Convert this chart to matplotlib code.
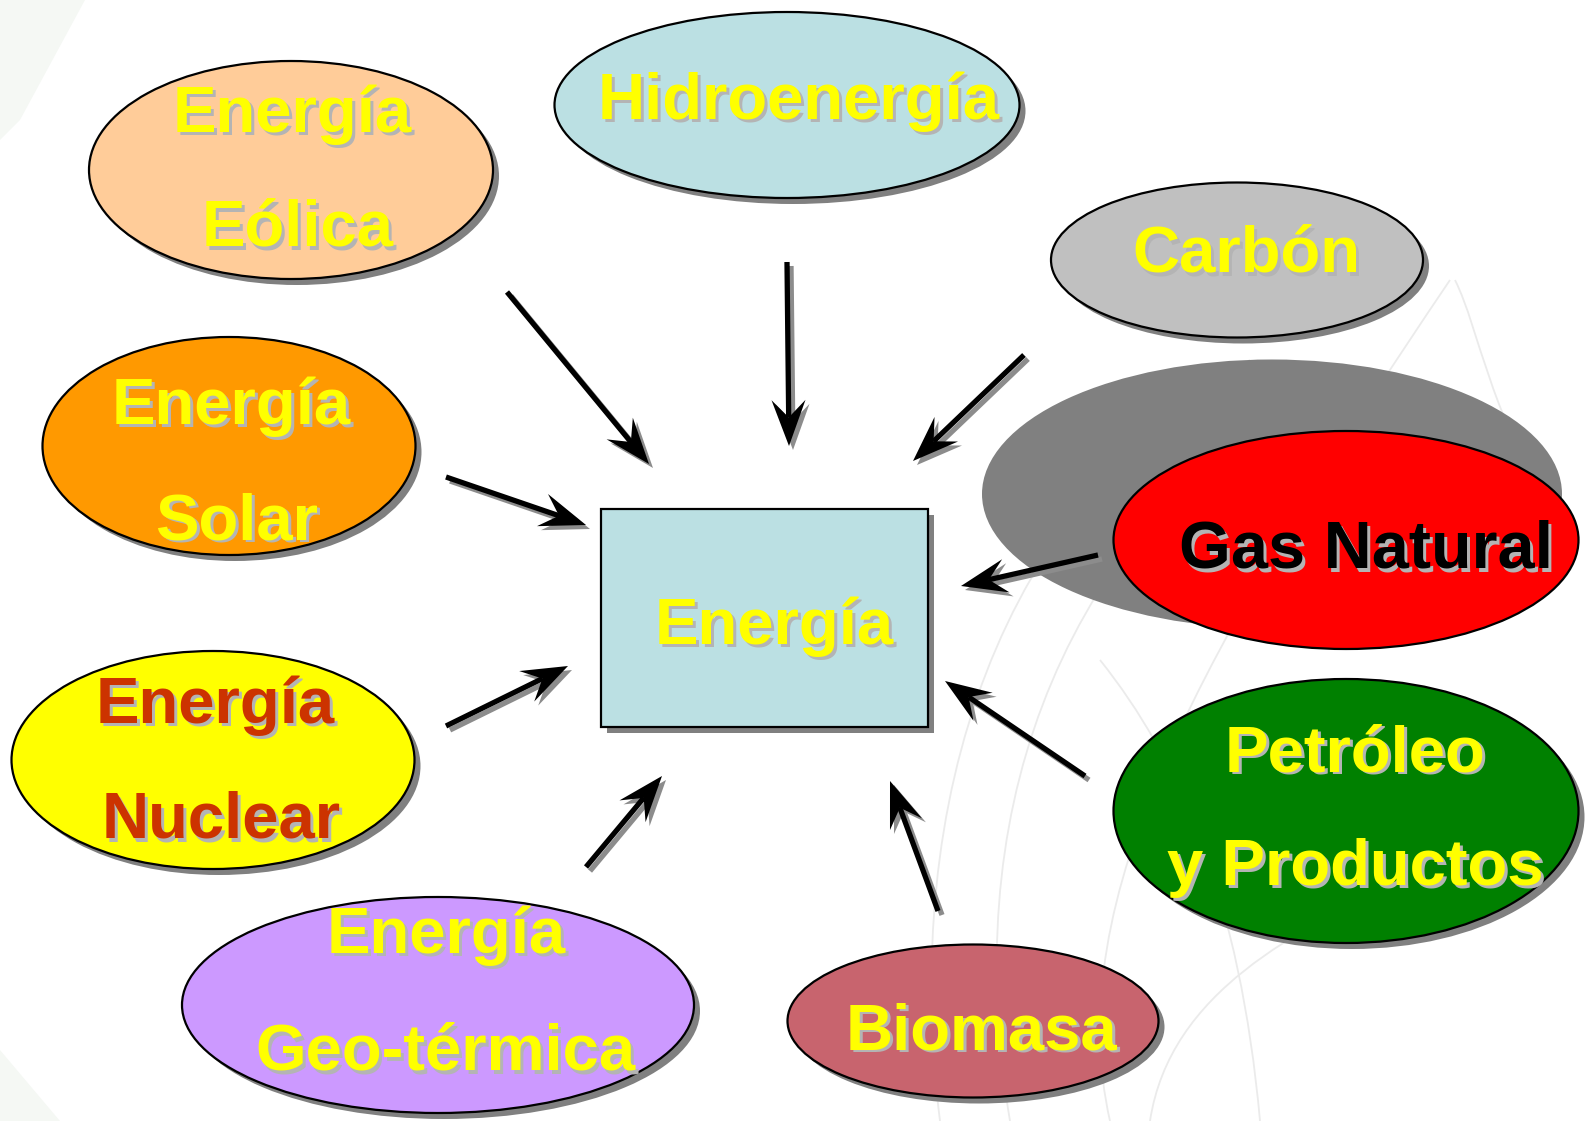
import matplotlib
matplotlib.use("Agg")
import matplotlib.pyplot as plt
from matplotlib.patches import Ellipse, Rectangle, Polygon, PathPatch
from matplotlib.path import Path
import numpy as np

# nodes of the diagram: label lines, fill colour, text colour
node_labels = [["Energía", "Eólica"], ["Hidroenergía"], ["Carbón"],
               ["Energía", "Solar"], ["Gas Natural"], ["Energía", "Nuclear"],
               ["Petróleo", "y Productos"], ["Energía", "Geo-térmica"], ["Biomasa"]]
node_fill = ["#FFCC99", "#BBE0E3", "#C0C0C0", "#FF9900", "#FF0000",
             "#FFFF00", "#008000", "#CC99FF", "#C8646E"]
node_text = ["#FFFF00", "#FFFF00", "#FFFF00", "#FFFF00", "#000000",
             "#CC3300", "#FFFF00", "#FFFF00", "#FFFF00"]
center_label = "Energía"

# layout (pixels): ellipse centre, width, height
node_xy = [(291, 170), (787, 105), (1237, 260), (229, 446), (1346, 540),
           (213, 760), (1346, 811), (438, 1005), (973, 1021)]
node_wh = [(404, 218), (465, 186), (372, 155), (373, 218), (465, 218),
           (403, 218), (465, 264), (512, 216), (371, 153)]
# text baselines per line
text_pos = [[(292, 132), (298, 246)], [(799, 119)], [(1246, 272)],
            [(231, 424), (237, 539)], [(1366, 568)], [(215, 723), (221, 838)],
            [(1355, 771), (1355, 885)], [(446, 953), (445, 1070)], [(981, 1049)]]

# arrows: tail -> head
arrows = [((507, 292), (649, 464)), ((787, 262), (789, 446)),
          ((1024, 355), (913, 461)), ((446, 477), (586, 525)),
          ((1098, 555), (961, 586)), ((446, 726), (568, 666)),
          ((586, 867), (662, 776)), ((1085, 776), (945, 681)),
          ((938, 911), (890, 781))]

W, H = 1590, 1121
fig = plt.figure(figsize=(W / 100, H / 100), dpi=100)
ax = fig.add_axes([0, 0, 1, 1])
ax.set_xlim(0, W)
ax.set_ylim(H, 0)
ax.axis("off")

FONT = "Liberation Sans"
FS = 47

# faint background decoration
ax.add_patch(Polygon([(0, 0), (85, 0), (20, 120), (0, 140)], closed=True,
                     color="#F5F8F4", lw=0, zorder=0))
ax.add_patch(Polygon([(0, 1050), (60, 1121), (0, 1121)], closed=True,
                     color="#F5F8F4", lw=0, zorder=0))
wm = [
    [(940, 1121), (900, 800), (1000, 500), (1250, 360)],
    [(1010, 1121), (960, 820), (1050, 560), (1300, 380)],
    [(1110, 1121), (1060, 900), (1200, 650), (1450, 280)],
    [(1455, 280), (1480, 330), (1490, 420), (1560, 520)],
    [(1100, 660), (1180, 760), (1240, 900), (1260, 1121)],
    [(1150, 1121), (1170, 990), (1300, 930), (1400, 880)],
]
for pts in wm:
    p = Path(pts, [Path.MOVETO, Path.CURVE4, Path.CURVE4, Path.CURVE4])
    ax.add_patch(PathPatch(p, fc="none", ec="#EBEBEB", lw=1.3, zorder=0))

SH = 6  # shadow offset


def shadow_text(x, y, s, color, size=FS):
    ax.text(x + 3, y + 3, s, fontsize=size, fontweight="bold", family=FONT,
            color="#B4B4B4", ha="center", va="baseline", zorder=5)
    ax.text(x, y, s, fontsize=size, fontweight="bold", family=FONT,
            color=color, ha="center", va="baseline", zorder=6)


# gas natural has a big grey shadow ellipse behind it
ax.add_patch(Ellipse((1272, 494), 580, 269, color="#808080", lw=0, zorder=1))

for i, lines in enumerate(node_labels):
    (cx, cy), (w, h) = node_xy[i], node_wh[i]
    if i != 4:
        ax.add_patch(Ellipse((cx + SH, cy + SH), w, h, color="#808080",
                             lw=0, zorder=1))
    ax.add_patch(Ellipse((cx, cy), w, h, fc=node_fill[i], ec="black",
                         lw=1.6, zorder=2))
    for s, (tx, ty) in zip(lines, text_pos[i]):
        shadow_text(tx, ty, s, node_text[i], 48 if i == 4 else FS)

# central box
ax.add_patch(Rectangle((601 + SH, 509 + SH), 327, 218, color="#808080",
                       lw=0, zorder=1))
ax.add_patch(Rectangle((601, 509), 327, 218, fc="#BBE0E3", ec="black",
                       lw=1.6, zorder=2))
shadow_text(774, 644, center_label, "#FFFF00")


def draw_arrow(tail, head, color, dz, off):
    t = np.array(tail, float) + off
    h = np.array(head, float) + off
    u = (h - t) / np.linalg.norm(h - t)
    n = np.array([-u[1], u[0]])
    L, Wd = 46, 17
    notch = h - 0.62 * L * u
    ax.plot([t[0], notch[0]], [t[1], notch[1]], color=color, lw=3.8,
            solid_capstyle="butt", zorder=dz)
    ax.add_patch(Polygon([h, h - L * u + Wd * n, notch, h - L * u - Wd * n],
                         closed=True, color=color, lw=0, zorder=dz))


for tail, head in arrows:
    draw_arrow(tail, head, "#8C8C8C", 3, np.array([4, 4]))
    draw_arrow(tail, head, "black", 4, np.array([0, 0]))

fig.savefig("out.png", dpi=100, facecolor="white")
